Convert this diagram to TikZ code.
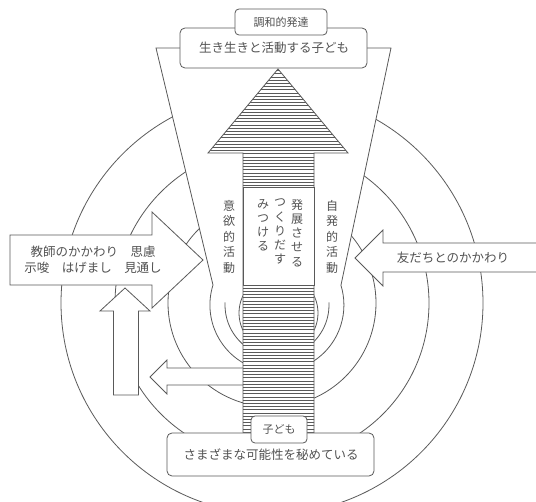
\documentclass[tikz,border=0pt]{standalone}
\usepackage{fontspec}
\newfontfamily\jp{Noto Sans CJK JP}
\definecolor{ln}{gray}{0.35}
\definecolor{tx}{gray}{0.32}
\begin{document}
\begin{tikzpicture}[x=1pt,y=-1pt,line join=miter,
  ln/.style={draw=ln,line width=0.8pt},
  wshape/.style={fill=white,draw=ln,line width=0.8pt},
  rbox/.style={fill=white,draw=ln,line width=0.8pt,rounded corners=5pt},
  stripe/.style={draw=ln,line width=1pt},
  lbl/.style={font=\jp\fontsize{12.5}{16}\selectfont,text=tx,inner sep=0pt},
  slbl/.style={font=\jp\fontsize{11}{13}\selectfont,text=tx,inner sep=0pt},
  vlbl/.style={font=\jp\fontsize{12}{15.5}\selectfont,text=tx,inner sep=0pt,align=center,anchor=north},
  vlblb/.style={font=\jp\fontsize{12}{14.2}\selectfont,text=tx,inner sep=0pt,align=center,anchor=north}]
\useasboundingbox (0,0) rectangle (536,502);
% outer concentric circles
\draw[ln] (272,303) circle[radius=211];
\draw[ln] (272,303) circle[radius=157];
\draw[ln] (272,303) circle[radius=104];
% funnel
\fill[white] (156,48) -- (391,48) -- (341,285) -- (213,285) -- cycle;
\draw[ln] (213,285) -- (156,48) -- (391,48) -- (341,285);
% inner ripples
\draw[ln] (213,285) arc[start angle=197.4,end angle=-17.4,radius=67];
\draw[ln] ([shift={(183:52)}]277,305) arc[start angle=183,end angle=120,radius=52];
\draw[ln] ([shift={(-3:52)}]277,305) arc[start angle=-3,end angle=60,radius=52];
\draw[ln] (278.5,313) circle[radius=39.5];
% teacher arrow
\draw[wshape] (113.5,395) -- (113.5,311) -- (100,311) -- (125,288) -- (150,311) -- (138.5,311) -- (138.5,395) -- cycle;
\draw[wshape] (10,235) -- (152,235) -- (152,212) -- (203,260) -- (152,308) -- (152,285) -- (10,285) -- cycle;
% small left arrow
\draw[wshape] (243,368) -- (167,368) -- (167,360) -- (150,377) -- (167,394) -- (167,385) -- (243,385);
% friends arrow
\draw[wshape] (545,243) -- (383,243) -- (383,230) -- (355,258) -- (383,286) -- (383,272) -- (545,272);
% big arrow
\fill[white] (278,69) -- (348,153) -- (314,153) -- (314,433) -- (243,433) -- (243,153) -- (208,153) -- cycle;
\begin{scope}
\clip (278,69) -- (348,153) -- (314,153) -- (314,433) -- (243,433) -- (243,153) -- (208,153) -- cycle;
\foreach \k in {0,...,114} \draw[stripe] (200,70.8+3.2*\k) -- (360,70.8+3.2*\k);
\end{scope}
\draw[ln] (278,69) -- (348,153) -- (314,153) -- (314,433) -- (243,433) -- (243,153) -- (208,153) -- cycle;
\draw[wshape] (243,187) rectangle (314,285);
% boxes
\draw[rbox] (180,28) rectangle (367,68);
\draw[rbox,rounded corners=4pt] (235,9) rectangle (327,35);
\draw[rbox] (167,433) rectangle (374,476);
\draw[rbox,rounded corners=4pt] (251,416) rectangle (307,443);
% texts
\node[slbl] (chowa) at (281,22) {調和的発達};
\node[lbl] (ikiiki) at (274,48) {生き生きと活動する子ども};
\node[lbl] (kanosei) at (271,455) {さまざまな可能性を秘めている};
\node[slbl] (kodomo) at (279,429) {子ども};
\node[lbl,align=center] (kyoshi) at (93,260) {教師のかかわり　思慮\\示唆　はげまし　見通し};
\node[lbl] (tomodachi) at (453,258) {友だちとのかかわり};
\node[vlbl] (iyoku) at (229,200) {意\\欲\\的\\活\\動};
\node[vlbl] (jihatsu) at (332,200) {自\\発\\的\\活\\動};
\node[vlblb] (hatten) at (297,199) {発\\展\\さ\\せ\\る};
\node[vlblb] (tsukuri) at (280,199) {つ\\く\\り\\だ\\す};
\node[vlblb] (mitsu) at (263,199) {み\\つ\\け\\る};
\end{tikzpicture}
\end{document}
